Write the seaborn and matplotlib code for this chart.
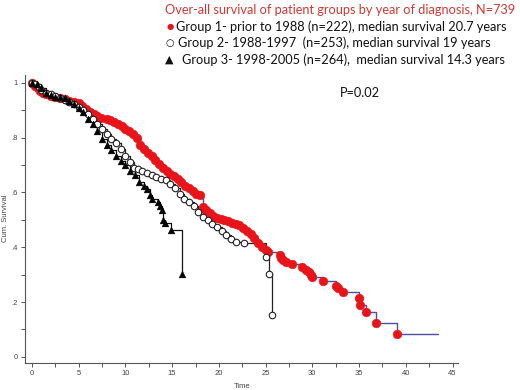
import matplotlib
matplotlib.use("Agg")
import matplotlib.pyplot as plt
import seaborn as sns
import pandas as pd
from matplotlib.ticker import MultipleLocator

sns.set_theme(style="white")
plt.rcParams['font.family'] = ['Liberation Sans', 'DejaVu Sans']

# Group 1 - prior to 1988
g1_time = [0, 0.3, 0.6, 0.9, 1.2, 1.5, 2.0, 2.5, 3.0, 3.5, 4.0, 4.5, 5.0, 5.4, 5.8,
           6.2, 6.6, 7.0, 7.4, 8.0, 8.4, 8.8, 9.2, 9.6, 10.0, 10.4, 10.8, 11.2, 11.6,
           12.0, 12.4, 12.8, 13.2, 13.6, 14.0, 14.4, 14.8, 15.2, 15.6, 16.0, 16.4,
           16.8, 17.2, 17.6, 18.0, 18.3, 18.6, 19.0, 19.4, 19.8, 20.2, 20.6, 21.0,
           21.4, 21.8, 22.2, 22.6, 23.0, 23.4, 23.8, 24.2, 24.6, 25.0, 25.3, 26.5,
           26.7, 26.9, 27.2, 27.8, 28.9, 29.3, 29.6, 29.9, 30.0, 31.1, 32.5, 32.7,
           33.3, 35.0, 35.1, 35.7, 36.8, 39.1]
g1_surv = [1.0, .99, .98, .97, .962, .958, .953, .948, .944, .94, .935, .93, .925, .917,
           .905, .895, .885, .878, .872, .87, .866, .857, .85, .842, .832, .824, .815,
           .8, .775, .76, .745, .732, .72, .705, .69, .677, .668, .66, .65, .638, .625,
           .615, .605, .595, .59, .546, .535, .525, .515, .508, .503, .5, .497, .49,
           .485, .48, .47, .46, .448, .435, .415, .40, .39, .382, .371, .36, .353,
           .345, .34, .328, .318, .309, .298, .29, .276, .26, .25, .236, .213, .19,
           .163, .122, .083]
g1_end = 43.4

# Group 2 - 1988-1997
g2_time = [0, 0.3, 0.7, 1.0, 1.5, 2.0, 2.5, 3.0, 3.5, 4.0, 4.5, 5.0, 5.5, 6.0, 6.5,
           7.0, 7.5, 8.0, 8.5, 9.0, 9.5, 10.0, 10.5, 10.9, 11.3, 11.8, 12.3, 12.8,
           13.3, 13.8, 14.3, 14.8, 15.3, 15.8, 16.3, 16.8, 17.3, 17.8, 18.3, 18.8,
           19.3, 19.8, 20.3, 20.8, 21.3, 21.8, 22.7, 25.0, 25.4, 25.7]
g2_surv = [1.0, .995, .985, .975, .965, .958, .952, .945, .937, .93, .922, .913, .9,
           .885, .868, .85, .832, .815, .797, .78, .76, .735, .71, .69, .685, .678,
           .672, .665, .658, .65, .645, .63, .615, .595, .578, .565, .55, .53, .512,
           .498, .485, .474, .46, .445, .43, .42, .414, .364, .304, .152]

# Group 3 - 1998-2005
g3_time = [0, 0.5, 1.0, 1.5, 2.0, 2.5, 3.0, 3.5, 4.0, 4.5, 5.0, 5.5, 6.0, 6.5, 7.0,
           7.5, 8.0, 8.5, 9.0, 9.5, 10.0, 10.5, 11.0, 11.5, 12.0, 12.3, 12.6, 12.8,
           13.5, 13.7, 13.9, 14.0, 14.2, 14.9, 16.1]
g3_surv = [1.0, .995, .98, .965, .955, .95, .947, .944, .935, .922, .91, .895, .87,
           .85, .825, .795, .775, .755, .735, .715, .7, .68, .665, .64, .625, .612,
           .59, .578, .564, .55, .535, .5, .487, .462, .304]

title = "Over-all survival of patient groups by year of diagnosis, N=739"
legend_labels = ["Group 1- prior to 1988 (n=222), median survival 20.7 years",
                 "Group 2- 1988-1997  (n=253), median survival 19 years",
                 "Group 3- 1998-2005 (n=264),  median survival 14.3 years"]
p_text = "P=0.02"

g1 = pd.DataFrame({"t": g1_time, "s": g1_surv})
g1_line = pd.DataFrame({"t": g1_time + [g1_end], "s": g1_surv + [g1_surv[-1]]})
g2 = pd.DataFrame({"t": g2_time, "s": g2_surv})
g3 = pd.DataFrame({"t": g3_time, "s": g3_surv})

fig = plt.figure(figsize=(5.2, 3.9), dpi=100)
ax = fig.add_axes([0.048, 0.069, 0.833, 0.738])

# group 1: blue step line, red dots
sns.lineplot(data=g1_line, x="t", y="s", drawstyle="steps-post", color="#4b4f9e",
             lw=1.0, ax=ax, estimator=None, sort=False)
sns.scatterplot(data=g1, x="t", y="s", color="#e8141a", s=40, edgecolor="#e8141a",
                linewidth=0.3, ax=ax, zorder=3)
# group 2: open circles
sns.lineplot(data=g2, x="t", y="s", drawstyle="steps-post", color="#222222",
             lw=0.9, ax=ax, estimator=None, sort=False)
sns.scatterplot(data=g2, x="t", y="s", marker="o", facecolor="white",
                edgecolor="#222222", s=22, linewidth=0.8, ax=ax, zorder=4)
# group 3: filled triangles
sns.lineplot(data=g3, x="t", y="s", drawstyle="steps-post", color="#111111",
             lw=0.9, ax=ax, estimator=None, sort=False)
sns.scatterplot(data=g3, x="t", y="s", marker="^", color="black", edgecolor="black",
                s=24, linewidth=0.3, ax=ax, zorder=5)

ax.set_xlim(-0.75, 45.6)
ax.set_ylim(-0.023, 1.028)
ax.set_xticks(range(0, 50, 5))
ax.set_yticks([0, .2, .4, .6, .8, 1])
ax.set_yticklabels(["0", ".2", ".4", ".6", ".8", "1"])
ax.xaxis.set_minor_locator(MultipleLocator(2.5))
ax.yaxis.set_minor_locator(MultipleLocator(0.1))
ax.tick_params(which="both", direction="out", length=3, width=0.7, color="#555555",
               labelsize=5.5, labelcolor="#444444", pad=2, bottom=True, left=True)
for side in ["top", "right"]:
    ax.spines[side].set_visible(False)
for side in ["left", "bottom"]:
    ax.spines[side].set_color("#555555")
    ax.spines[side].set_linewidth(0.8)
ax.set_xlabel("")
ax.set_ylabel("")

fig.text(242 / 520, 1 - 386 / 390, "Time", fontsize=5.5, color="#444444",
         ha="center", va="center")
fig.text(6 / 520, 1 - 218 / 390, "Cum. Survival", fontsize=5.5, color="#444444",
         ha="center", va="center", rotation=90)

cal = ['Lato', 'DejaVu Sans']
fs = 9.2
fig.text(165 / 520, 1 - 10 / 390, title, fontsize=fs, color="#cc3a35",
         family=cal, va="center")
fig.text(167 / 520, 1 - 27 / 390, "\u25cf", fontsize=6, color="#e8141a",
         family=['DejaVu Sans'], va="center")
fig.text(176 / 520, 1 - 27 / 390, legend_labels[0], fontsize=fs, color="#111111",
         family=cal, va="center")
fig.text(166 / 520, 1 - 43 / 390, "\u25cb", fontsize=7, color="#111111",
         family=['DejaVu Sans'], va="center")
fig.text(178 / 520, 1 - 43 / 390, legend_labels[1], fontsize=fs, color="#111111",
         family=cal, va="center")
fig.text(165 / 520, 1 - 60 / 390, "\u25b2", fontsize=8, color="#111111",
         family=['DejaVu Sans'], va="center")
fig.text(182 / 520, 1 - 60 / 390, legend_labels[2], fontsize=fs, color="#111111",
         family=cal, va="center")
fig.text(340 / 520, 1 - 93 / 390, p_text, fontsize=fs, color="#111111",
         family=cal, va="center")

fig.savefig("out.png", dpi=100)
